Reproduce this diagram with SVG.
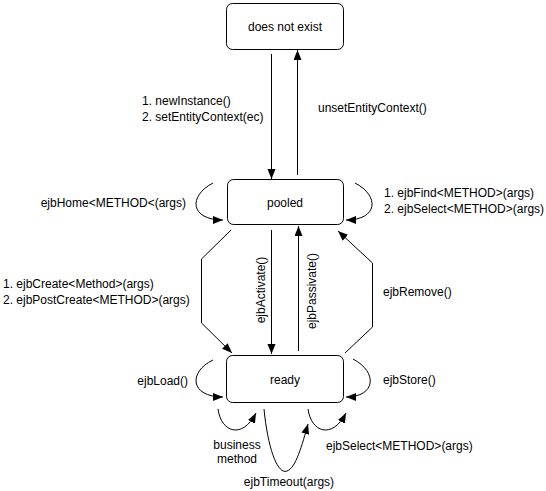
<svg xmlns="http://www.w3.org/2000/svg" width="546" height="491" viewBox="0 0 546 491">
<style>
text{font-family:"Liberation Sans",Arial,sans-serif;font-size:12px;fill:#000}
.c{text-anchor:middle}
.e{text-anchor:end}
.node rect{fill:#fff;stroke:#000;stroke-width:1}
#connectors path{fill:none;stroke:#000;stroke-width:1;marker-end:url(#arr)}
</style>
<defs>
<marker id="arr" markerUnits="userSpaceOnUse" markerWidth="11" markerHeight="9" refX="10" refY="4" orient="auto">
<path d="M0,0 L10,4 L0,8 z" fill="#000"/>
</marker>
</defs>
<rect width="546" height="491" fill="#fff"/>
<g id="node-doesnotexist" class="node">
<rect x="226.5" y="3.5" width="117" height="46" rx="6"/>
<text x="285" y="31" class="c">does not exist</text>
</g>
<g id="node-pooled" class="node">
<rect x="227.5" y="179.5" width="116" height="45" rx="6"/>
<text x="285" y="207" class="c">pooled</text>
</g>
<g id="node-ready" class="node">
<rect x="226.5" y="355.5" width="117" height="47" rx="6"/>
<text x="285" y="384" class="c">ready</text>
</g>
<g id="connectors">
<path d="M271.5,54 L271.5,179"/>
<path d="M297.5,175 L297.5,50"/>
<path d="M271.5,230 L271.5,354"/>
<path d="M298.5,351 L298.5,226"/>
<path d="M231,230 L201.5,259 L201.5,323 L232,353"/>
<path d="M345,353 L372.5,327 L372.5,263 L338,231"/>
<path d="M213,183 C188,196 190,220 223,220"/>
<path d="M355,183 C380,196 378,220 346,220"/>
<path d="M213,360 C188,372 190,397 223,397"/>
<path d="M353,359 C378,372 376,397 346,397"/>
<path d="M218,409 C221,432 242,440 256,413"/>
<path d="M264,409 C268,450 278,475 287,471 C296,468 302,445 308,424"/>
<path d="M308,409 C311,432 332,440 346,413"/>
</g>
<g id="labels">
<text x="142" y="105">1. newInstance()</text>
<text x="142" y="121">2. setEntityContext(ec)</text>
<text x="318" y="112">unsetEntityContext()</text>
<text x="186" y="207" class="e">ejbHome&lt;METHOD&lt;(args)</text>
<text x="384" y="197">1. ejbFind&lt;METHOD&gt;(args)</text>
<text x="384" y="213">2. ejbSelect&lt;METHOD&gt;(args)</text>
<text x="3" y="288">1. ejbCreate&lt;Method&gt;(args)</text>
<text x="3" y="304">2. ejbPostCreate&lt;METHOD&gt;(args)</text>
<text transform="translate(265,290) rotate(-90)" class="c">ejbActivate()</text>
<text transform="translate(316,291) rotate(-90)" class="c">ejbPassivate()</text>
<text x="383" y="296">ejbRemove()</text>
<text x="188" y="385" class="e">ejbLoad()</text>
<text x="383" y="384">ejbStore()</text>
<text x="237" y="449" class="c">business</text>
<text x="237" y="463" class="c">method</text>
<text x="289" y="486" class="c">ejbTimeout(args)</text>
<text x="326" y="450">ejbSelect&lt;METHOD&gt;(args)</text>
</g>
</svg>
